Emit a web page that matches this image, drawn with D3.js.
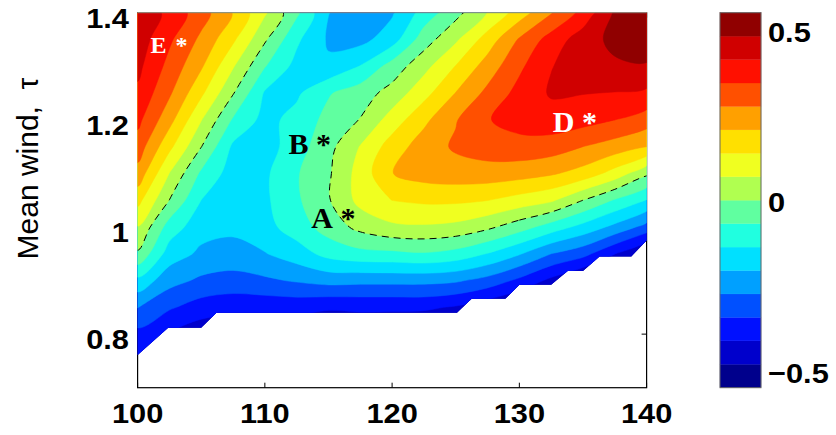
<!DOCTYPE html>
<html>
<head>
<meta charset="utf-8">
<script src="https://cdn.jsdelivr.net/npm/d3@7"></script>
<style>
  body { margin: 0; background: #fff; }
  svg { display: block; }
</style>
</head>
<body>
<svg id="chart" width="836" height="435"></svg>
<script>
// ---- grid axes of the sampled field ----
const gridX = [100, 102.5, 105, 107.5, 110, 112.5, 115, 117.5, 120, 122.5, 125, 127.5, 130, 132.5, 135, 137.5, 140];
const gridY = [1.40, 1.35, 1.30, 1.25, 1.20, 1.15, 1.10, 1.05, 1.00, 0.95, 0.90, 0.85, 0.80, 0.75, 0.70];

// ---- field values, one row per gridY entry (top row first) ----
const fieldRows = [
  [0.47, 0.393, 0.306, 0.203, 0.078, -0.055, -0.205, -0.245, -0.215, -0.11, -0.023, 0.07, 0.17, 0.27, 0.365, 0.49, 0.53],
  [0.45, 0.355, 0.26, 0.15, 0.01, -0.125, -0.215, -0.228, -0.17, -0.033, 0.057, 0.168, 0.282, 0.372, 0.448, 0.50, 0.52],
  [0.43, 0.322, 0.215, 0.075, -0.065, -0.16, -0.195, -0.135, -0.04, 0.046, 0.14, 0.237, 0.33, 0.41, 0.44, 0.47, 0.475],
  [0.399, 0.285, 0.151, 0.005, -0.145, -0.15, -0.075, -0.033, 0.026, 0.113, 0.208, 0.292, 0.366, 0.42, 0.415, 0.41, 0.40],
  [0.362, 0.23, 0.072, -0.077, -0.16, -0.114, -0.048, 0.003, 0.099, 0.19, 0.27, 0.34, 0.37, 0.385, 0.37, 0.344, 0.31],
  [0.312, 0.155, 0.002, -0.15, -0.17, -0.1, -0.022, 0.072, 0.17, 0.24, 0.285, 0.31, 0.32, 0.31, 0.275, 0.245, 0.207],
  [0.25, 0.067, -0.081, -0.17, -0.15, -0.075, -0.01, 0.097, 0.205, 0.235, 0.245, 0.245, 0.235, 0.215, 0.18, 0.11, 0.014],
  [0.16, -0.001, -0.138, -0.17, -0.15, -0.08, -0.006, 0.09, 0.138, 0.15, 0.15, 0.139, 0.11, 0.08, 0.0, -0.075, -0.14],
  [0.066, -0.1, -0.18, -0.19, -0.16, -0.104, -0.038, 0.02, 0.055, 0.06, 0.05, 0.015, -0.038, -0.1, -0.16, -0.225, -0.3],
  [-0.01, -0.17, -0.22, -0.234, -0.21, -0.17, -0.115, -0.09, -0.085, -0.075, -0.094, -0.14, -0.2, -0.275, -0.32, -0.41, -0.5],
  [-0.156, -0.25, -0.288, -0.30, -0.287, -0.268, -0.25, -0.255, -0.255, -0.255, -0.265, -0.30, -0.36, -0.43, -0.5, -0.58, -0.65],
  [-0.273, -0.335, -0.375, -0.39, -0.39, -0.39, -0.405, -0.40, -0.40, -0.40, -0.42, -0.46, -0.5, -0.55, -0.6, -0.65, -0.7],
  [-0.365, -0.42, -0.46, -0.47, -0.47, -0.47, -0.47, -0.47, -0.48, -0.5, -0.52, -0.55, -0.6, -0.65, -0.7, -0.75, -0.8],
  [-0.40, -0.46, -0.52, -0.53, -0.53, -0.53, -0.53, -0.53, -0.54, -0.56, -0.58, -0.6, -0.65, -0.7, -0.75, -0.8, -0.85],
  [-0.45, -0.52, -0.57, -0.58, -0.58, -0.58, -0.58, -0.58, -0.59, -0.6, -0.62, -0.65, -0.7, -0.75, -0.8, -0.85, -0.9]
];

// lower edge of the computed region (below it there is no solution)
const validEdgeX = [100, 102.4, 105.0, 106.2, 125.1, 126.25, 128.9, 130.0, 132.5, 133.8, 135.0, 136.3, 138.8, 140];
const validEdgeY = [0.761, 0.812, 0.812, 0.840, 0.840, 0.866, 0.866, 0.892, 0.892, 0.918, 0.918, 0.945, 0.945, 0.975];

// contour levels (band edges) and band colours
const contourLevels = [-0.55, -0.48125, -0.4125, -0.34375, -0.275, -0.20625, -0.1375, -0.06875, 0,
                       0.06875, 0.1375, 0.20625, 0.275, 0.34375, 0.4125, 0.48125, 0.55];
const bandColors = ["#00008c", "#0000cc", "#0010ff", "#0050ff", "#00a0ff", "#00e0ff", "#20ffe0", "#60ffa0",
                    "#b0ff50", "#f0ff20", "#ffe000", "#ffa000", "#ff5000", "#ff1000", "#d00000", "#900000"];

// axis ticks
const xTicks = [100, 110, 120, 130, 140];
const yTicks = [0.8, 1.0, 1.2, 1.4];
const colorbarTicks = [-0.5, 0, 0.5];

// labelled points
const pointNames = ["E", "B", "A", "D"];
const pointX = [103.45, 114.61, 116.53, 135.51];
const pointY = [1.345, 1.163, 1.025, 1.203];
const pointColors = ["#ffffff", "#000000", "#000000", "#ffffff"];
const pointFontSize = [24, 30, 30, 30];

// ---- layout ----
const svg = d3.select("#chart");
const plot = { left: 137.6, right: 646.6, top: 12.7, bottom: 387.7 };
const x = d3.scaleLinear().domain([100, 140]).range([plot.left, plot.right]);
const y = d3.scaleLinear().domain([0.7, 1.4]).range([plot.bottom, plot.top]);

const sansBold = "'Liberation Sans', Arial, Helvetica, sans-serif";

// clip: plot box above the lower edge of the computed region
const clipPts = [[100, 1.4], [140, 1.4]];
for (let i = validEdgeX.length - 1; i >= 0; i--) clipPts.push([validEdgeX[i], validEdgeY[i]]);
svg.append("defs").append("clipPath").attr("id", "valid")
  .append("path")
  .attr("d", "M" + clipPts.map(p => [x(p[0]), y(p[1])].join(",")).join("L") + "Z");

// ---- axes box and ticks (drawn under the fill) ----
const axes = svg.append("g");
axes.append("rect")
  .attr("x", plot.left).attr("y", plot.top)
  .attr("width", plot.right - plot.left).attr("height", plot.bottom - plot.top)
  .attr("fill", "none").attr("stroke", "#000").attr("stroke-width", 1.2);
const tickLen = 5;
xTicks.forEach(t => {
  axes.append("line").attr("x1", x(t)).attr("x2", x(t)).attr("y1", plot.bottom).attr("y2", plot.bottom - tickLen).attr("stroke", "#000");
  axes.append("line").attr("x1", x(t)).attr("x2", x(t)).attr("y1", plot.top).attr("y2", plot.top + tickLen).attr("stroke", "#000");
});
yTicks.forEach(t => {
  axes.append("line").attr("y1", y(t)).attr("y2", y(t)).attr("x1", plot.left).attr("x2", plot.left + tickLen).attr("stroke", "#000");
  axes.append("line").attr("y1", y(t)).attr("y2", y(t)).attr("x1", plot.right).attr("x2", plot.right - tickLen).attr("stroke", "#000");
});

// ---- filled contours ----
const nx = gridX.length, ny = gridY.length;
const values = fieldRows.flat();
const dX = gridX[1] - gridX[0];
const dY = gridY[1] - gridY[0];
// grid index space -> pixels (sample i sits at i + 0.5)
const toPx = ([u, v]) => [x(gridX[0] + (u - 0.5) * dX), y(gridY[0] + (v - 0.5) * dY)];
const ringLine = d3.line().curve(d3.curveCatmullRomClosed.alpha(0.5));
function smoothPath(geom) {
  let d = "";
  geom.coordinates.forEach(poly => poly.forEach(ring => {
    const pts = ring.slice(0, ring.length - 1).map(toPx);
    if (pts.length > 2) d += ringLine(pts);
  }));
  return d;
}

const fillLayer = svg.append("g").attr("clip-path", "url(#valid)");
fillLayer.append("rect")
  .attr("x", plot.left).attr("y", plot.top)
  .attr("width", plot.right - plot.left).attr("height", plot.bottom - plot.top)
  .attr("fill", bandColors[0]);
const inner = contourLevels.slice(1, contourLevels.length - 1);
const bands = d3.contours().size([nx, ny]).thresholds(inner)(values);
fillLayer.selectAll("path.band")
  .data(bands)
  .join("path")
  .attr("class", "band")
  .attr("d", smoothPath)
  .attr("fill", (d, i) => bandColors[i + 1])
  .attr("stroke", (d, i) => bandColors[i + 1])
  .attr("stroke-width", 0.5);

// zero contour, dashed
const zeroLine = d3.contours().size([nx, ny]).thresholds([0])(values);
fillLayer.selectAll("path.zero")
  .data(zeroLine)
  .join("path")
  .attr("class", "zero")
  .attr("d", smoothPath)
  .attr("fill", "none")
  .attr("stroke", "#000")
  .attr("stroke-width", 1)
  .attr("stroke-dasharray", "7,5");

// top border stays visible over the fill
svg.append("line").attr("x1", plot.left).attr("x2", plot.right).attr("y1", plot.top).attr("y2", plot.top)
  .attr("stroke", "#888").attr("stroke-width", 1);

// ---- tick labels (slightly widened bold sans) ----
const labels = svg.append("g").attr("font-family", sansBold).attr("font-weight", "bold").attr("font-size", 28).attr("fill", "#000");
function wideText(g, tx, ty, anchor, str) {
  g.append("text")
    .attr("transform", `translate(${tx},${ty}) scale(1.1,1)`)
    .attr("text-anchor", anchor)
    .text(str);
}
xTicks.forEach(t => wideText(labels, x(t), 423, "middle", String(t)));
yTicks.forEach(t => wideText(labels, 129, y(t) + 15, "end", String(t)));

// axis title
svg.append("text")
  .attr("transform", "translate(38,168.5) rotate(-90)")
  .attr("text-anchor", "middle")
  .attr("font-family", "'Liberation Sans', Arial, sans-serif")
  .attr("font-size", 30)
  .attr("fill", "#000")
  .style("white-space", "pre")
  .text("Mean wind,  \u03c4");

// ---- labelled points ----
const serif = "'Liberation Serif', 'Times New Roman', serif";
pointNames.forEach((name, i) => {
  const px = x(pointX[i]), py = y(pointY[i]);
  const fs = pointFontSize[i];
  const base = py + 0.47 * fs;
  svg.append("text").attr("x", px - 15).attr("y", base).attr("text-anchor", "end")
    .attr("font-family", serif).attr("font-weight", "bold").attr("font-size", fs)
    .attr("fill", pointColors[i]).text(name);
  svg.append("text").attr("x", px).attr("y", base).attr("text-anchor", "middle")
    .attr("font-family", serif).attr("font-weight", "bold").attr("font-size", fs)
    .attr("fill", pointColors[i]).text("*");
});

// ---- colour bar ----
const cb = { left: 720, right: 761, top: 12.7, bottom: 387.7 };
const cbScale = d3.scaleLinear().domain([contourLevels[0], contourLevels[contourLevels.length - 1]]).range([cb.bottom, cb.top]);
const cbG = svg.append("g");
bandColors.forEach((c, k) => {
  cbG.append("rect")
    .attr("x", cb.left).attr("width", cb.right - cb.left)
    .attr("y", cbScale(contourLevels[k + 1])).attr("height", cbScale(contourLevels[k]) - cbScale(contourLevels[k + 1]))
    .attr("fill", c).attr("stroke", c).attr("stroke-width", 0.3);
});
cbG.append("rect")
  .attr("x", cb.left).attr("y", cb.top).attr("width", cb.right - cb.left).attr("height", cb.bottom - cb.top)
  .attr("fill", "none").attr("stroke", "#666").attr("stroke-width", 1);
const cbLabels = svg.append("g").attr("font-family", sansBold).attr("font-weight", "bold").attr("font-size", 28).attr("fill", "#000");
colorbarTicks.forEach(t => {
  wideText(cbLabels, 768, cbScale(t) + 12, "start",
    t === 0 ? "0" : (t < 0 ? "\u2212" + Math.abs(t) : String(t)));
});
</script>
</body>
</html>
